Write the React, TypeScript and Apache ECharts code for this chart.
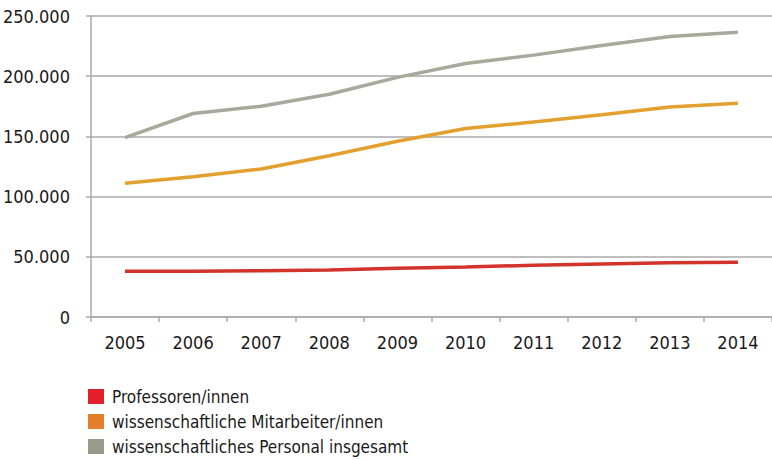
import React, { useEffect, useRef } from "react";
import * as echarts from "echarts";

const years = ["2005", "2006", "2007", "2008", "2009", "2010", "2011", "2012", "2013", "2014"];
const professoren = [38000, 38000, 38500, 39000, 40500, 41500, 43000, 44000, 45000, 45500];
const mitarbeiter = [111000, 116500, 123000, 134000, 146000, 156500, 162000, 168000, 174500, 177500];
const insgesamt = [149000, 169000, 175000, 185000, 199000, 210500, 217500, 225500, 233000, 236500];
const seriesNames = ["Professoren/innen", "wissenschaftliche Mitarbeiter/innen", "wissenschaftliches Personal insgesamt"];
const lineColors = ["#d2342b", "#e3a02f", "#a8a99b"];
const legendColors = ["#e2222b", "#e57f2c", "#9a9a8c"];

const FONT = "'Liberation Sans Narrow', 'DejaVu Sans Condensed', 'Roboto', sans-serif";

export default function App() {
  const ref = useRef<HTMLDivElement>(null);
  useEffect(() => {
    document.body.style.margin = "0";
    if (!ref.current) return;
    const chart = echarts.init(ref.current, undefined, { renderer: "svg" });
    const data = [professoren, mitarbeiter, insgesamt];
    chart.setOption({
      animation: false,
      textStyle: { fontFamily: FONT },
      grid: { left: 88, right: 0, top: 16, bottom: 143 },
      legend: {
        orient: "vertical",
        left: 88,
        top: 388,
        height: 72,
        padding: 0,
        itemWidth: 16,
        itemHeight: 15,
        itemGap: 8,
        icon: "rect",
        textStyle: { fontFamily: FONT, fontSize: 17, lineHeight: 15, color: "#1a1a1a", padding: [0, 0, 0, 3] },
        data: seriesNames.map((n, i) => ({ name: n, itemStyle: { color: legendColors[i] } })),
      },
      xAxis: {
        type: "category",
        data: years,
        boundaryGap: true,
        axisLine: { lineStyle: { color: "#aaaaaa", width: 1.5 } },
        axisTick: { show: true, length: 5, lineStyle: { color: "#aaaaaa", width: 1.5 } },
        axisLabel: { fontFamily: FONT, fontSize: 18, color: "#1a1a1a", margin: 16 },
      },
      yAxis: {
        type: "value",
        min: 0,
        max: 250000,
        interval: 50000,
        axisLine: { show: true, lineStyle: { color: "#aaaaaa", width: 1.5 } },
        axisTick: { show: true, length: 5, lineStyle: { color: "#aaaaaa", width: 1.5 } },
        splitLine: { lineStyle: { color: "#a8a8a8", width: 1.5 } },
        axisLabel: {
          fontFamily: FONT,
          fontSize: 18,
          color: "#1a1a1a",
          margin: 21,
          formatter: (v: number) => (v === 0 ? "0" : v.toLocaleString("de-DE")),
        },
      },
      series: data.map((d, i) => ({
        name: seriesNames[i],
        type: "line",
        data: d,
        symbol: "none",
        lineStyle: { color: lineColors[i], width: 3.5 },
        itemStyle: { color: legendColors[i] },
      })),
    });
    return () => chart.dispose();
  }, []);
  return <div ref={ref} style={{ width: 772, height: 460 }} />;
}
